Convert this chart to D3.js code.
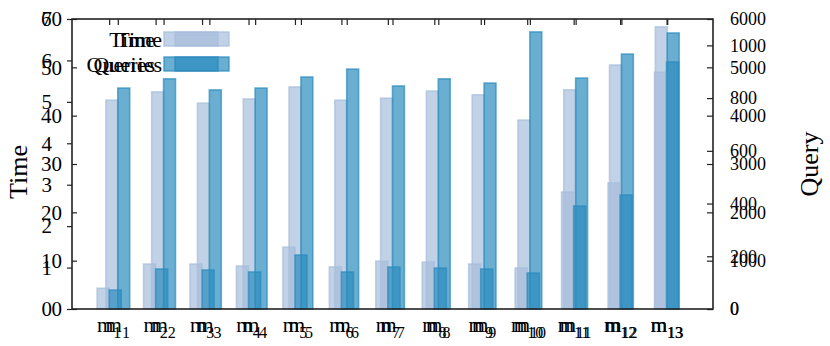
<!DOCTYPE html>
<html>
<head>
<meta charset="utf-8">
<script src="https://cdn.jsdelivr.net/npm/d3@7"></script>
<style>
  body { margin: 0; background: #fff; }
  svg { display: block; font-family: "Liberation Serif", "DejaVu Serif", serif; }
</style>
</head>
<body>
<svg id="chart" width="830" height="346"></svg>
<script>
// two runs drawn on top of each other, each with its own twin axes
const categories = ["1", "2", "3", "4", "5", "6", "7", "8", "9", "10", "11", "12", "13"];

// run 1 (left 0-7, right 0-1100)
const timeRun1 = [5.04, 5.24, 4.97, 5.07, 5.36, 5.04, 5.09, 5.26, 5.17, 4.56, 5.29, 5.89, 6.81];
const queryRun1 = [838, 873, 831, 838, 880, 910, 846, 873, 857, 1051, 876, 967, 1047];

// run 2 (left 0-60, right 0-6000)
const timeRun2 = [4.3, 9.3, 9.3, 8.9, 12.8, 8.7, 9.9, 9.7, 9.3, 8.5, 24.2, 26.1, 49.0];
const queryRun2 = [393, 828, 807, 766, 1117, 766, 869, 848, 828, 745, 2131, 2359, 5111];

const leftTicks1 = [0, 1, 2, 3, 4, 5, 6, 7];
const leftTicks2 = [0, 10, 20, 30, 40, 50, 60];
const rightTicks1 = [0, 200, 400, 600, 800, 1000];
const rightTicks2 = [0, 1000, 2000, 3000, 4000, 5000, 6000];

const timeColor = "#a6bddb";
const queryColor = "#2b8cbe";

const svg = d3.select("#chart");
const pl = 72, pr = 713, pt = 19, pb = 309;
const fmt = d3.format("d");

const x1 = d3.scaleLinear().domain([0, 14]).range([pl, pr]);
const x2 = d3.scaleLinear().domain([0.2, 14]).range([pl, pr]);
const yL1 = d3.scaleLinear().domain([0, 7]).range([pb, pt]);
const yR1 = d3.scaleLinear().domain([0, 1100]).range([pb, pt]);
const yL2 = d3.scaleLinear().domain([0, 60]).range([pb, pt]);
const yR2 = d3.scaleLinear().domain([0, 6000]).range([pb, pt]);
const barW = 0.26;

function drawBars(x, values, y, color, shift) {
  svg.append("g")
    .selectAll("rect")
    .data(values)
    .join("rect")
    .attr("x", (d, i) => x(i + 1 + shift))
    .attr("width", (d, i) => x(i + 1 + shift + barW) - x(i + 1 + shift))
    .attr("y", d => y(d))
    .attr("height", d => y(0) - y(d))
    .attr("fill", color)
    .attr("fill-opacity", 0.7)
    .attr("stroke", color)
    .attr("stroke-opacity", 0.7)
    .attr("stroke-width", 1.6);
}

drawBars(x1, timeRun1, yL1, timeColor, -barW);
drawBars(x1, queryRun1, yR1, queryColor, 0);
drawBars(x2, timeRun2, yL2, timeColor, -barW);
drawBars(x2, queryRun2, yR2, queryColor, 0);

// axes
function styleAxis(g, size) {
  g.select(".domain").remove();
  g.selectAll("line").attr("stroke", "#222").attr("stroke-width", 1.2);
  g.selectAll("text").attr("font-size", size).attr("fill", "#000")
    .attr("font-family", "Liberation Serif, serif");
}

svg.append("g").attr("transform", `translate(${pl},0)`)
  .call(d3.axisLeft(yL2).tickValues(leftTicks2).tickFormat(fmt)
    .tickSizeInner(-5).tickSizeOuter(0).tickPadding(10))
  .call(g => styleAxis(g, 21));
svg.append("g").attr("transform", `translate(${pl},0)`)
  .call(d3.axisLeft(yL1).tickValues(leftTicks1).tickFormat(fmt)
    .tickSizeInner(5).tickSizeOuter(0).tickPadding(15))
  .call(g => styleAxis(g, 21));
svg.append("g").attr("transform", `translate(${pr},0)`)
  .call(d3.axisRight(yR1).tickValues(rightTicks1).tickFormat(fmt)
    .tickSizeInner(-6).tickSizeOuter(0).tickPadding(17))
  .call(g => styleAxis(g, 18));
svg.append("g").attr("transform", `translate(${pr},0)`)
  .call(d3.axisRight(yR2).tickValues(rightTicks2).tickFormat(fmt)
    .tickSizeInner(-6).tickSizeOuter(0).tickPadding(17))
  .call(g => styleAxis(g, 18));

[x1, x2].forEach(x => {
  svg.append("g").attr("transform", `translate(0,${pt})`)
    .call(d3.axisTop(x).tickValues(d3.range(1, 14)).tickSizeInner(-6).tickSizeOuter(0).tickFormat(""))
    .call(g => styleAxis(g, 18));
});

// category labels m with subscript
[x1, x2].forEach(x => {
  const lab = svg.append("g").selectAll("text")
    .data(categories)
    .join("text")
    .attr("x", (d, i) => x(i + 1))
    .attr("y", 332)
    .attr("text-anchor", "middle")
    .attr("font-size", 21);
  lab.append("tspan").text("m");
  lab.append("tspan").attr("dy", 6).attr("font-size", 16).text(d => d);
});

// frame
svg.append("rect")
  .attr("x", pl).attr("y", pt)
  .attr("width", pr - pl).attr("height", pb - pt)
  .attr("fill", "none").attr("stroke", "#222").attr("stroke-width", 1.6);

// axis titles
svg.append("text")
  .attr("transform", `translate(27,${(pt + pb) / 2 + 8}) rotate(-90)`)
  .attr("text-anchor", "middle").attr("font-size", 26).text("Time");
svg.append("text")
  .attr("transform", `translate(818,${(pt + pb) / 2}) rotate(-90)`)
  .attr("text-anchor", "middle").attr("font-size", 26).text("Query");

// two overlapping legends
const legendItems = [["Time", timeColor], ["Queries", queryColor]];
[[0, 0], [7, 11]].forEach(([tdx, pdx]) => {
  legendItems.forEach(([name, color], i) => {
    const yy = 32 + i * 25;
    svg.append("rect")
      .attr("x", 164 + pdx).attr("y", yy)
      .attr("width", 54).attr("height", 14)
      .attr("fill", color).attr("fill-opacity", 0.7)
      .attr("stroke", color).attr("stroke-opacity", 0.7).attr("stroke-width", 1.6);
    svg.append("text")
      .attr("x", 155 + tdx).attr("y", yy + 15)
      .attr("text-anchor", "end").attr("font-size", 22)
      .text(name);
  });
});
</script>
</body>
</html>
